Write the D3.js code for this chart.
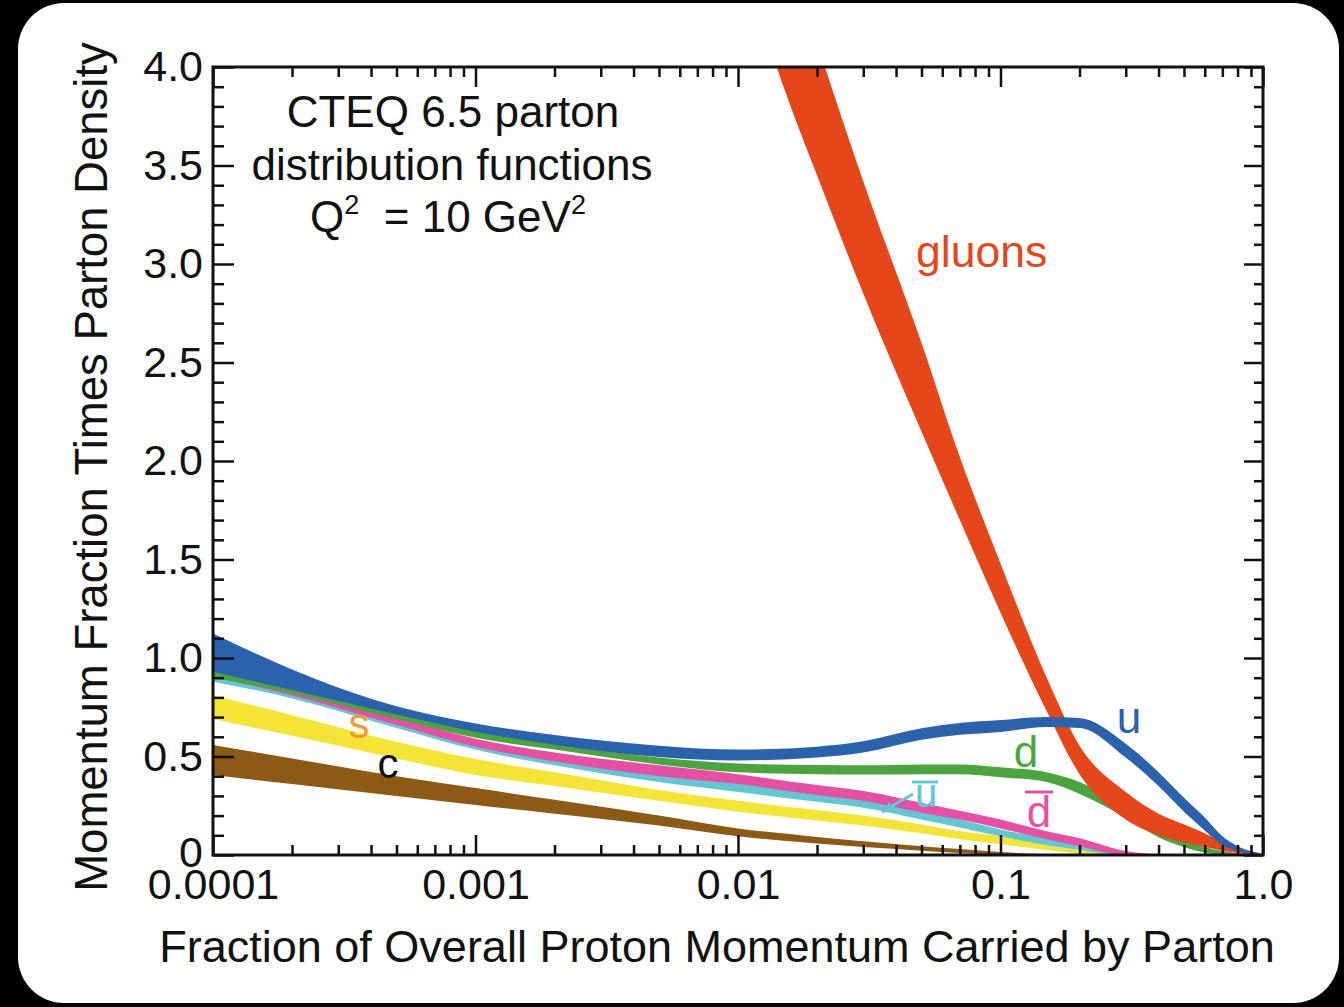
<!DOCTYPE html>
<html><head><meta charset="utf-8">
<script src="https://cdn.jsdelivr.net/npm/d3@7"></script>
<style>
html,body{margin:0;padding:0;background:#000;}
svg{display:block;}
text{font-family:"Liberation Sans",Arial,Helvetica,sans-serif;}
</style>
</head><body>
<svg id="chart" width="1344" height="1007"></svg>
<script>
// ---- data ----
const xGrid   = [1e-4, 2e-4, 5e-4, 1e-3, 2e-3, 5e-3, 0.01, 0.02, 0.03, 0.05, 0.07, 0.1, 0.15, 0.2, 0.3, 0.4, 0.5, 0.6, 0.7, 0.8, 0.9, 1.0];
const uLow    = [0.93, 0.837, 0.713, 0.626, 0.56, 0.498, 0.48, 0.495, 0.52, 0.585, 0.61, 0.625, 0.65, 0.645, 0.495, 0.35, 0.22, 0.125, 0.05, 0.02, 0.005, 0];
const uHigh   = [1.125, 0.942, 0.755, 0.668, 0.609, 0.555, 0.535, 0.55, 0.577, 0.643, 0.67, 0.685, 0.70, 0.695, 0.565, 0.42, 0.29, 0.19, 0.095, 0.045, 0.02, 0.005];
const dLow    = [0.90, 0.82, 0.69, 0.595, 0.535, 0.46, 0.42, 0.41, 0.408, 0.41, 0.41, 0.395, 0.37, 0.31, 0.19, 0.09, 0.04, 0.012, 0.003, 0, 0, 0];
const dHigh   = [0.96, 0.86, 0.725, 0.63, 0.565, 0.495, 0.465, 0.457, 0.455, 0.46, 0.46, 0.445, 0.42, 0.37, 0.25, 0.14, 0.075, 0.04, 0.02, 0.008, 0.002, 0];
const dbarLow = [0.905, 0.81, 0.66, 0.55, 0.475, 0.40, 0.36, 0.305, 0.275, 0.215, 0.18, 0.135, 0.08, 0.045, 0, 0, 0, 0, 0, 0, 0, 0];
const dbarHigh= [0.93, 0.84, 0.70, 0.59, 0.52, 0.455, 0.41, 0.355, 0.325, 0.265, 0.225, 0.18, 0.12, 0.085, 0.02, 0.003, 0, 0, 0, 0, 0, 0];
const ubarLow = [0.88, 0.795, 0.645, 0.535, 0.455, 0.37, 0.32, 0.27, 0.24, 0.18, 0.14, 0.095, 0.05, 0.025, 0, 0, 0, 0, 0, 0, 0, 0];
const ubarHigh= [0.92, 0.83, 0.68, 0.57, 0.495, 0.41, 0.365, 0.31, 0.28, 0.225, 0.18, 0.13, 0.085, 0.055, 0.012, 0, 0, 0, 0, 0, 0, 0];
const sLow    = [0.69, 0.605, 0.49, 0.406, 0.35, 0.275, 0.22, 0.175, 0.15, 0.11, 0.08, 0.055, 0.025, 0.008, 0, 0, 0, 0, 0, 0, 0, 0];
const sHigh   = [0.81, 0.71, 0.575, 0.487, 0.42, 0.33, 0.275, 0.228, 0.2, 0.155, 0.12, 0.095, 0.05, 0.025, 0.005, 0, 0, 0, 0, 0, 0, 0];
const cLow    = [0.406, 0.36, 0.30, 0.254, 0.21, 0.15, 0.095, 0.058, 0.04, 0.022, 0.01, 0.002, 0, 0, 0, 0, 0, 0, 0, 0, 0, 0];
const cHigh   = [0.558, 0.49, 0.40, 0.34, 0.28, 0.20, 0.135, 0.092, 0.07, 0.045, 0.03, 0.015, 0.004, 0, 0, 0, 0, 0, 0, 0, 0, 0];

const gluonX    = [0.01, 0.015, 0.02, 0.03, 0.05, 0.07, 0.1, 0.15, 0.2, 0.3, 0.4, 0.5, 0.6, 0.7, 0.8, 0.9, 1.0];
const gluonLow  = [4.6, 3.89, 3.45, 2.85, 2.15, 1.70, 1.23, 0.73, 0.41, 0.18, 0.10, 0.063, 0.04, 0.022, 0.01, 0.002, 0];
const gluonHigh = [5.4, 4.62, 4.12, 3.42, 2.60, 2.02, 1.48, 0.90, 0.555, 0.32, 0.21, 0.155, 0.11, 0.066, 0.035, 0.012, 0];

const xTickValues = [1e-4, 1e-3, 1e-2, 1e-1, 1];
const xTickLabels = ["0.0001", "0.001", "0.01", "0.1", "1.0"];
const yTickValues = [0, 0.5, 1.0, 1.5, 2.0, 2.5, 3.0, 3.5, 4.0];
const yTickLabels = ["0", "0.5", "1.0", "1.5", "2.0", "2.5", "3.0", "3.5", "4.0"];

const titleLines = ["CTEQ 6.5 parton", "distribution functions"];
const xTitle = "Fraction of Overall Proton Momentum Carried by Parton";
const yTitle = "Momentum Fraction Times Parton Density";

// ---- drawing ----
const svg = d3.select("#chart");
svg.append("rect").attr("width", 1344).attr("height", 1007).attr("fill", "#000");
svg.append("rect").attr("x", 18).attr("y", 3).attr("width", 1321).attr("height", 1000).attr("rx", 46).attr("fill", "#fff");

const L = 213, R = 1263, T = 67, B = 855;
const x = d3.scaleLog().domain([1e-4, 1]).range([L, R]);
const y = d3.scaleLinear().domain([0, 4]).range([B, T]);

svg.append("clipPath").attr("id", "plotclip").append("rect")
  .attr("x", L).attr("y", T).attr("width", R - L).attr("height", B - T);
const g = svg.append("g").attr("clip-path", "url(#plotclip)");

function band(xs, lo, hi, color) {
  const data = xs.map((v, i) => ({x: v, lo: lo[i], hi: hi[i]}));
  const area = d3.area().x(d => x(d.x)).y0(d => y(d.lo)).y1(d => y(d.hi)).curve(d3.curveMonotoneX);
  g.append("path").datum(data).attr("d", area).attr("fill", color);
}
band(xGrid, cLow, cHigh, "#8c5a14");
band(xGrid, sLow, sHigh, "#f4e534");
band(xGrid, ubarLow, ubarHigh, "#5fc8d2");
band(xGrid, dbarLow, dbarHigh, "#e74fa5");
band(xGrid, dLow, dHigh, "#4aa53e");
band(gluonX, gluonLow, gluonHigh, "#e5461a");
band(xGrid, uLow, uHigh, "#2b62ad");

// ---- axes ----
const minorX = [];
[1e-4, 1e-3, 1e-2, 1e-1].forEach(dec => { for (let k = 2; k <= 9; k++) minorX.push(k * dec); });
const minorY = d3.range(1, 40).filter(i => i % 5 !== 0).map(i => i / 10);

const font = '"Liberation Sans",Arial,Helvetica,sans-serif';
function styleAxis(sel) {
  sel.attr("font-family", font).attr("font-size", 43);
  sel.select(".domain").remove();
  sel.selectAll(".tick line").attr("stroke", "#111").attr("stroke-width", 2.5);
  sel.selectAll(".tick text").attr("fill", "#111");
}
// bottom
svg.append("g").attr("transform", `translate(0,${B})`)
  .call(d3.axisBottom(x).tickValues(xTickValues).tickSize(-20).tickPadding(13).tickFormat((d, i) => xTickLabels[i]))
  .call(styleAxis);
svg.append("g").attr("transform", `translate(0,${B})`)
  .call(d3.axisBottom(x).tickValues(minorX).tickSize(-10).tickFormat(""))
  .call(styleAxis);
// top
svg.append("g").attr("transform", `translate(0,${T})`)
  .call(d3.axisTop(x).tickValues(xTickValues).tickSize(-20).tickFormat(""))
  .call(styleAxis);
svg.append("g").attr("transform", `translate(0,${T})`)
  .call(d3.axisTop(x).tickValues(minorX).tickSize(-10).tickFormat(""))
  .call(styleAxis);
// left
const leftAx = svg.append("g").attr("transform", `translate(${L},0)`)
  .call(d3.axisLeft(y).tickValues(yTickValues).tickSize(-21).tickPadding(10).tickFormat((d, i) => yTickLabels[i]))
  .call(styleAxis);
leftAx.selectAll(".tick text").filter(d => d === 0).attr("dy", "0.26em");
svg.append("g").attr("transform", `translate(${L},0)`)
  .call(d3.axisLeft(y).tickValues(minorY).tickSize(-11).tickFormat(""))
  .call(styleAxis);
// right
svg.append("g").attr("transform", `translate(${R},0)`)
  .call(d3.axisRight(y).tickValues(yTickValues).tickSize(-19).tickFormat(""))
  .call(styleAxis);
svg.append("g").attr("transform", `translate(${R},0)`)
  .call(d3.axisRight(y).tickValues(minorY).tickSize(-9).tickFormat(""))
  .call(styleAxis);

// frame
svg.append("rect").attr("x", L).attr("y", T).attr("width", R - L).attr("height", B - T)
  .attr("fill", "none").attr("stroke", "#111").attr("stroke-width", 3);

// ---- titles ----
svg.append("text").attr("x", 717).attr("y", 962).attr("text-anchor", "middle")
  .attr("font-size", 45).attr("fill", "#111").text(xTitle);
svg.append("text").attr("transform", "translate(107,467) rotate(-90)").attr("text-anchor", "middle")
  .attr("font-size", 45.5).attr("fill", "#111").text(yTitle);

// annotation
svg.append("text").attr("x", 453).attr("y", 127).attr("text-anchor", "middle").attr("font-size", 44).attr("fill", "#111").text(titleLines[0]);
svg.append("text").attr("x", 452).attr("y", 180).attr("text-anchor", "middle").attr("font-size", 44).attr("fill", "#111").text(titleLines[1]);
const q = svg.append("text").attr("x", 448).attr("y", 232).attr("text-anchor", "middle").attr("font-size", 44).attr("fill", "#111");
q.append("tspan").text("Q");
q.append("tspan").attr("font-size", 27).attr("dy", -18).text("2");
q.append("tspan").attr("dy", 18).text("\u00a0 = 10 GeV");
q.append("tspan").attr("font-size", 27).attr("dy", -18).text("2");

// series labels
svg.append("text").attr("x", 916).attr("y", 267).attr("font-size", 44.5).attr("fill", "#e5461a").text("gluons");
svg.append("text").attr("x", 1129).attr("y", 733).attr("text-anchor", "middle").attr("font-size", 44).attr("fill", "#2b62ad").text("u");
svg.append("text").attr("x", 1026).attr("y", 767).attr("text-anchor", "middle").attr("font-size", 44).attr("fill", "#4aa53e").text("d");
svg.append("text").attr("x", 1039).attr("y", 827).attr("text-anchor", "middle").attr("font-size", 44).attr("fill", "#e74fa5").text("d");
svg.append("line").attr("x1", 1025).attr("x2", 1053).attr("y1", 792).attr("y2", 792).attr("stroke", "#e74fa5").attr("stroke-width", 3);
svg.append("text").attr("x", 926).attr("y", 807).attr("text-anchor", "middle").attr("font-size", 40).attr("fill", "#5fc8d2").text("u");
svg.append("line").attr("x1", 912).attr("x2", 938).attr("y1", 782).attr("y2", 782).attr("stroke", "#5fc8d2").attr("stroke-width", 3);
svg.append("line").attr("x1", 913).attr("y1", 794).attr("x2", 890).attr("y2", 807).attr("stroke", "#5fc8d2").attr("stroke-width", 3);
svg.append("polygon").attr("points", "881,813 894,811 889,802").attr("fill", "#5fc8d2");
svg.append("text").attr("x", 359).attr("y", 738).attr("text-anchor", "middle").attr("font-size", 42).attr("fill", "#ee9a2c").text("s");
svg.append("text").attr("x", 388).attr("y", 778).attr("text-anchor", "middle").attr("font-size", 42).attr("fill", "#111").text("c");
</script>
</body></html>
